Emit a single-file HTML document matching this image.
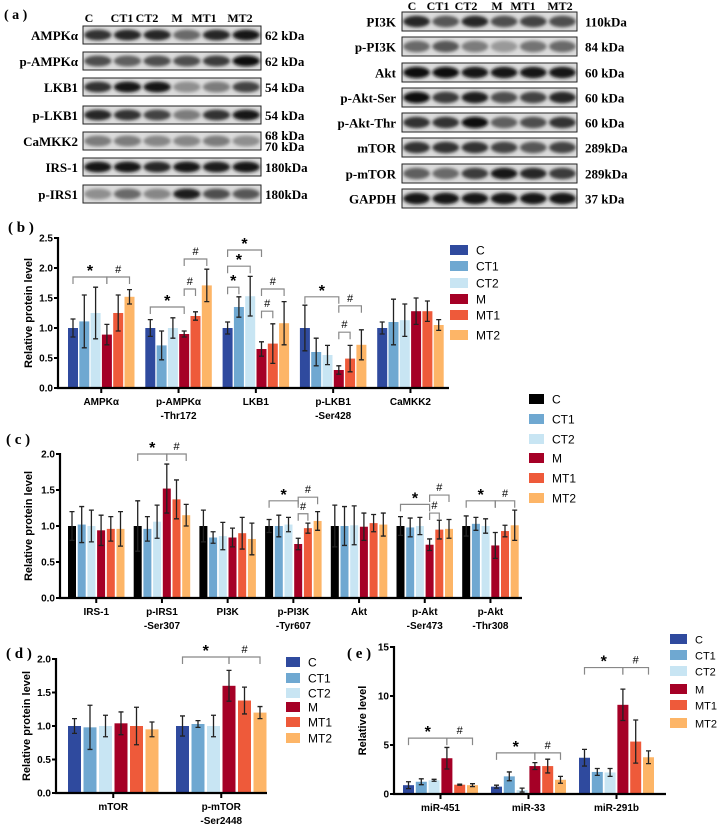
<!DOCTYPE html>
<html><head><meta charset="utf-8"><style>
html,body{margin:0;padding:0;background:#fff;}
svg{display:block;}
.ser{font-family:"Liberation Serif",serif;}
.sans{font-family:"Liberation Sans",sans-serif;}
</style></head><body>
<svg id="fig" width="719" height="824" viewBox="0 0 719 824" xmlns="http://www.w3.org/2000/svg">
<defs><filter id="blur" x="-20%" y="-50%" width="140%" height="200%"><feGaussianBlur stdDeviation="1.6"/></filter></defs>
<g id="blots"></g>
<g id="charts"></g>
</svg>
<script>
// ---------- data ----------
const groups = ["C","CT1","CT2","M","MT1","MT2"];
const colorsDefault = ["#2f4a9e","#6fa8d1","#c8e5f3","#a50026","#ee5a3a","#fdb567"];
const colorsC = ["#000000","#6fa8d1","#c8e5f3","#a50026","#ee5a3a","#fdb567"];

const bCats = [["AMPKα"],["p-AMPKα","-Thr172"],["LKB1"],["p-LKB1","-Ser428"],["CaMKK2"]];
const bVals = [[1.0,1.11,1.25,0.89,1.25,1.52],[1.0,0.71,1.0,0.9,1.2,1.71],[1.0,1.35,1.53,0.65,0.74,1.08],[1.0,0.6,0.55,0.3,0.49,0.72],[1.0,1.1,1.13,1.28,1.28,1.05]];
const bErr = [[0.15,0.44,0.43,0.17,0.3,0.12],[0.14,0.24,0.17,0.05,0.07,0.27],[0.1,0.17,0.33,0.12,0.33,0.36],[0.38,0.23,0.16,0.07,0.22,0.25],[0.1,0.38,0.27,0.22,0.17,0.09]];
const bTicks = [0,0.5,1.0,1.5,2.0,2.5];
const bSig = [[0,0,3,1.85,"*"],[0,3,5,1.85,"#"],[1,0,3,1.35,"*"],[1,3,4,1.65,"#"],[1,3,5,2.15,"#"],[2,0,1,1.68,"*"],[2,0,2,2.03,"*"],[2,0,3,2.3,"*"],[2,3,5,1.65,"#"],[2,3,4,1.28,"#"],[3,0,3,1.52,"*"],[3,3,5,1.37,"#"],[3,3,4,0.93,"#"]];

const cCats = [["IRS-1"],["p-IRS1","-Ser307"],["PI3K"],["p-PI3K","-Tyr607"],["Akt"],["p-Akt","-Ser473"],["p-Akt","-Thr308"]];
const cVals = [[1.0,1.02,1.0,0.94,0.96,0.96],[1.0,0.96,1.06,1.52,1.37,1.15],[1.0,0.84,0.86,0.84,0.9,0.82],[1.0,1.0,1.02,0.75,0.97,1.07],[1.0,1.0,1.01,0.99,1.04,1.02],[1.0,0.98,1.0,0.74,0.95,0.96],[1.0,1.03,1.0,0.73,0.93,1.01]];
const cErr = [[0.2,0.25,0.22,0.21,0.17,0.24],[0.35,0.17,0.23,0.34,0.27,0.15],[0.22,0.08,0.19,0.13,0.22,0.22],[0.09,0.15,0.1,0.08,0.07,0.13],[0.29,0.27,0.27,0.19,0.12,0.16],[0.13,0.13,0.12,0.08,0.13,0.13],[0.14,0.09,0.1,0.18,0.08,0.21]];
const cTicks = [0,0.5,1.0,1.5,2.0];
const cSig = [[1,0,3,2.0,"*"],[1,3,5,2.0,"#"],[3,0,3,1.35,"*"],[3,3,5,1.4,"#"],[3,3,4,1.17,"#"],[5,0,3,1.3,"*"],[5,3,5,1.43,"#"],[5,3,4,1.18,"#"],[6,0,3,1.35,"*"],[6,3,5,1.35,"#"]];

const dCats = [["mTOR"],["p-mTOR","-Ser2448"]];
const dVals = [[1.0,0.98,1.0,1.04,1.0,0.95],[1.0,1.03,1.0,1.6,1.38,1.2]];
const dErr = [[0.11,0.33,0.16,0.17,0.28,0.11],[0.15,0.05,0.16,0.23,0.2,0.09]];
const dTicks = [0,0.5,1.0,1.5,2.0];
const dSig = [[1,0,3,2.03,"*"],[1,3,5,2.03,"#"]];

const eCats = [["miR-451"],["miR-33"],["miR-291b"]];
const eVals = [[0.9,1.25,1.4,3.65,0.95,0.9],[0.75,1.8,0.4,2.85,2.85,1.45],[3.7,2.25,2.2,9.1,5.35,3.75]];
const eErr = [[0.35,0.3,0.1,1.1,0.05,0.15],[0.15,0.45,0.2,0.35,0.7,0.35],[0.85,0.35,0.4,1.6,2.2,0.65]];
const eTicks = [0,5,10,15];
const eSig = [[0,0,3,5.7,"*"],[0,3,5,5.7,"#"],[1,0,3,4.2,"*"],[1,3,5,4.2,"#"],[2,0,3,12.9,"*"],[2,3,5,12.9,"#"]];

// blot band intensities (0..1)
const blotLeftNames = ["AMPKα","p-AMPKα","LKB1","p-LKB1","CaMKK2","IRS-1","p-IRS1"];
const blotLeftKda = ["62 kDa","62 kDa","54 kDa","54 kDa","68 kDa|70 kDa","180kDa","180kDa"];
const blotLeftInt = [[0.8,0.85,0.85,0.5,0.85,0.95],[0.65,0.55,0.65,0.65,0.75,1],[0.8,0.95,0.95,0.3,0.4,0.7],[0.85,0.8,0.7,0.4,0.8,0.95],[0.4,0.4,0.35,0.35,0.4,0.3],[0.95,0.95,0.85,0.95,0.9,0.95],[0.3,0.5,0.35,0.9,0.65,0.6]];
const blotRightNames = ["PI3K","p-PI3K","Akt","p-Akt-Ser","p-Akt-Thr","mTOR","p-mTOR","GAPDH"];
const blotRightKda = ["110kDa","84 kDa","60 kDa","60 kDa","60 kDa","289kDa","289kDa","37 kDa"];
const blotRightInt = [[0.85,0.6,0.85,0.65,0.7,0.65],[0.5,0.6,0.4,0.25,0.45,0.5],[1,1,0.95,0.95,0.95,0.95],[1,0.75,0.9,0.65,0.7,0.85],[0.8,0.8,1,0.55,0.65,0.8],[0.8,0.8,0.8,0.7,0.6,0.7],[0.55,0.5,0.75,0.95,0.85,0.75],[0.95,0.95,0.95,0.95,0.95,0.95]];

const NS="http://www.w3.org/2000/svg";
function mk(tag, attrs, parent){const e=document.createElementNS(NS,tag);for(const k in attrs)e.setAttribute(k,attrs[k]);if(parent)parent.appendChild(e);return e;}

// ---------- blots ----------
const blotG=document.getElementById('blots');
function drawBlots(names,kdas,ints,boxX,boxW,rowsY,rowH,headerY,lanesX,labelX,kdaX){
  groups.forEach((gname,i)=>{
    const t=mk('text',{x:lanesX[i],y:headerY,'text-anchor':'middle','font-size':'12','font-weight':'bold',class:'ser'},blotG);
    
    
    t.textContent=gname;
  });
  names.forEach((n,r)=>{
    const y=rowsY[r];
    const g=mk('g',{},blotG);
    
    
    mk('rect',{x:boxX,y:y,width:boxW,height:rowH,fill:'#dcdcdc',stroke:'#222','stroke-width':'1'},g);
    const lw=boxW/6;
    ints[r].forEach((v,i)=>{
      const cx=boxX+lw*(i+0.5);
      const shade=Math.round(200-190*v);
      mk('ellipse',{cx:cx,cy:y+rowH/2,rx:lw*0.46,ry:rowH*0.3,fill:`rgb(${shade},${shade},${shade})`,filter:'url(#blur)'},g);
    });
    const lab=mk('text',{x:labelX,y:y+rowH/2+5,'text-anchor':'end','font-size':'13','font-weight':'bold',class:'ser'},g);
    lab.textContent=n;
    const k=kdas[r].split('|');
    if(k.length===1){const kt=mk('text',{x:kdaX,y:y+rowH/2+5,'font-size':'13','font-weight':'bold',class:'ser'},g);kt.textContent=k[0];}
    else{k.forEach((s,j)=>{const kt=mk('text',{x:kdaX,y:y+rowH/2-1+j*11,'font-size':'13','font-weight':'bold',class:'ser'},g);kt.textContent=s;});}
  });
}
mk('text',{x:4,y:19,'font-size':'14','font-weight':'bold',class:'ser'},blotG).textContent='( a )';
drawBlots(blotLeftNames,blotLeftKda,blotLeftInt,83,178,[26,52,78,106,132,158,185],18,22,[89,122,147,177,204,240],78,265);
drawBlots(blotRightNames,blotRightKda,blotRightInt,402,175,[12,37,63,88,113,138,164,189],19,10,[412,438,466,497,523,560],396,585);

// ---------- charts ----------
const chartG=document.getElementById('charts');
function chart(cfg){
  const g=mk('g',{},chartG);
  
  
  const yv=v=>cfg.y0-v*cfg.ppu;
  const bx=(gi,i)=>cfg.x0+gi*cfg.gp+i*cfg.bp;
  const pl=mk('text',{x:cfg.plX,y:cfg.plY,'font-size':'15','font-weight':'bold',class:'ser'},g);
  
  
  pl.textContent=cfg.pl;
  cfg.vals.forEach((arr,gi)=>{
    arr.forEach((v,i)=>{
      const x=bx(gi,i);
      const r=mk('rect',{x:x,y:yv(v),width:cfg.bw,height:v*cfg.ppu,fill:cfg.colors[i]},g);
      
      
      const e=cfg.err[gi][i];const cx=x+cfg.bw/2;
      const eb=mk('path',{d:`M${cx},${yv(v+e)}V${yv(Math.max(0,v-e))}M${cx-2.5},${yv(v+e)}h5M${cx-2.5},${yv(Math.max(0,v-e))}h5`,stroke:'#222','stroke-width':'1.3',fill:'none'},g);
      
      
    });
  });
  cfg.sig.forEach(s=>{
    const [gi,a,b,lv,sym]=s;
    const x1=bx(gi,a)+cfg.bw/2, x2=bx(gi,b)+cfg.bw/2, y=yv(lv);
    const p=mk('path',{d:`M${x1},${y+7}V${y}H${x2}V${y+7}`,stroke:'#888','stroke-width':'1.2',fill:'none'},g);
    
    
    const t=mk('text',{x:(x1+x2)/2,y:sym==='*'?y-1:y-4,'text-anchor':'middle','font-size':sym==='*'?'16':'11','font-weight':sym==='*'?'bold':'normal',class:'sans'},g);
    
    
    t.textContent=sym;
  });
  const top=yv(cfg.ticks[cfg.ticks.length-1]);
  const ax=mk('path',{d:`M${cfg.ax},${top-1}V${cfg.y0}H${cfg.axEnd}`,stroke:'#000','stroke-width':'2.2',fill:'none'},g);
  
  
  cfg.ticks.forEach(t=>{
    const y=yv(t);
    mk('line',{x1:cfg.ax-4,x2:cfg.ax,y1:y,y2:y,stroke:'#000','stroke-width':'2'},g);
    const tl=mk('text',{x:cfg.ax-5,y:y+3.5,'text-anchor':'end','font-size':'10','font-weight':'bold',class:'sans'},g);
    
    
    tl.textContent=cfg.fmt(t);
  });
  cfg.cats.forEach((c,gi)=>{
    const cx=(bx(gi,0)+bx(gi,5)+cfg.bw)/2;
    mk('line',{x1:cx,x2:cx,y1:cfg.y0,y2:cfg.y0+5,stroke:'#000','stroke-width':'2'},g);
    c.forEach((s,j)=>{
      const t=mk('text',{x:cx,y:cfg.y0+17+j*14,'text-anchor':'middle','font-size':'10','font-weight':'bold',class:'sans'},g);
      
      
      t.textContent=s;
    });
  });
  const yt=mk('text',{x:0,y:0,'text-anchor':'middle','font-size':'11','font-weight':'bold',class:'sans',transform:`translate(${cfg.ytX},${(top+cfg.y0)/2}) rotate(-90)`},g);
  
  
  yt.textContent=cfg.ytitle;
  groups.forEach((n,i)=>{
    const y=cfg.legY[i];
    const r=mk('rect',{x:cfg.legX,y:y-5,width:cfg.legW,height:10,fill:cfg.colors[i]},g);
    
    
    const t=mk('text',{x:cfg.legX+cfg.legW+8,y:y+4.5,'font-size':cfg.legFs,class:'sans'},g);
    
    
    t.textContent=n;
  });
}
const f1=v=>v.toFixed(1), f0=v=>String(v);
chart({name:'chart-b',pl:'( b )',plX:8,plY:232,vals:bVals,err:bErr,cats:bCats,ticks:bTicks,sig:bSig,colors:colorsDefault,
  y0:388,ppu:60,x0:68,gp:77.3,bp:11.3,bw:10,ax:58,axEnd:449,fmt:f1,ytX:32,ytitle:'Relative protein level',
  legX:450,legW:18,legY:[250,266,283,299,315,335],legFs:'12'});
chart({name:'chart-c',pl:'( c )',plX:6,plY:444,vals:cVals,err:cErr,cats:cCats,ticks:cTicks,sig:cSig,colors:colorsC,
  y0:598,ppu:72,x0:68,gp:65.7,bp:9.7,bw:8,ax:60,axEnd:522,fmt:f1,ytX:32,ytitle:'Relative protein level',
  legX:529,legW:15,legY:[399,419,439,458,478,498],legFs:'12'});
chart({name:'chart-d',pl:'( d )',plX:6,plY:658,vals:dVals,err:dErr,cats:dCats,ticks:dTicks,sig:dSig,colors:colorsDefault,
  y0:793,ppu:67,x0:68,gp:108,bp:15.5,bw:13,ax:56,axEnd:267,fmt:f1,ytX:30,ytitle:'Relative protein level',
  legX:286,legW:14,legY:[662,678,693,707,722,738],legFs:'12'});
chart({name:'chart-e',pl:'( e )',plX:347,plY:658,vals:eVals,err:eErr,cats:eCats,ticks:eTicks,sig:eSig,colors:colorsDefault,
  y0:794,ppu:9.8,x0:403,gp:88,bp:12.8,bw:11,ax:394,axEnd:666,fmt:f0,ytX:366,ytitle:'Relative level',
  legX:670,legW:17,legY:[639,655,671,689,705,723],legFs:'11'});
</script>
</body></html>
